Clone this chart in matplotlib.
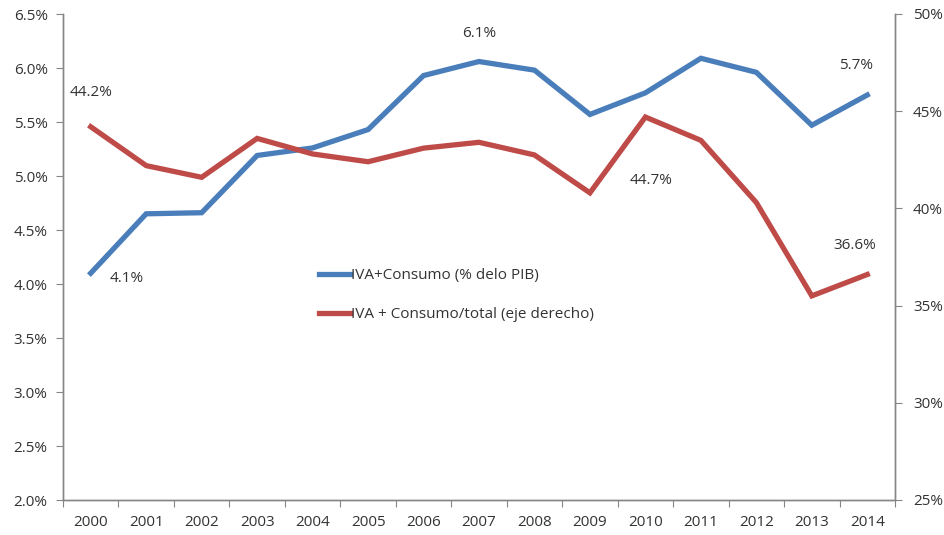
import matplotlib
matplotlib.use("Agg")
import matplotlib.pyplot as plt
from matplotlib.ticker import FuncFormatter, FixedLocator

years = ["2000", "2001", "2002", "2003", "2004", "2005", "2006", "2007",
         "2008", "2009", "2010", "2011", "2012", "2013", "2014"]
iva_pib = [4.10, 4.65, 4.66, 5.19, 5.26, 5.43, 5.93, 6.06,
           5.98, 5.57, 5.77, 6.09, 5.96, 5.47, 5.75]
iva_total = [44.2, 42.2, 41.6, 43.6, 42.8, 42.4, 43.1, 43.4,
             42.75, 40.8, 44.7, 43.5, 40.3, 35.5, 36.6]
left_ticks = [2.0, 2.5, 3.0, 3.5, 4.0, 4.5, 5.0, 5.5, 6.0, 6.5]
right_ticks = [25, 30, 35, 40, 45, 50]
label_blue = "IVA+Consumo (% delo PIB)"
label_red = "IVA + Consumo/total (eje derecho)"

plt.rcParams['font.family'] = ['Open Sans', 'DejaVu Sans']
FS = 11
BLUE = "#4a7ebb"
RED = "#be4b48"
GRAY = "#868686"
TXT = "#333333"

fig = plt.figure(figsize=(9.45, 5.35), dpi=100)
ax = fig.add_axes([63/945, 35/535, 832/945, 486/535])
ax2 = ax.twinx()

x = list(range(len(years)))
l1, = ax.plot(x, iva_pib, color=BLUE, lw=3.8, solid_joinstyle='miter', zorder=3)
l2, = ax2.plot(x, iva_total, color=RED, lw=3.8, solid_joinstyle='miter', zorder=3)

ax.set_xlim(-0.5, len(years) - 0.5)
ax.set_ylim(2.0, 6.5)
ax2.set_ylim(25, 50)
ax.set_yticks(left_ticks)
ax.yaxis.set_major_formatter(FuncFormatter(lambda v, p: f"{v:.1f}%"))
ax2.set_yticks(right_ticks)
ax2.yaxis.set_major_formatter(FuncFormatter(lambda v, p: f"{v:.0f}%"))

ax.xaxis.set_major_locator(FixedLocator([i - 0.5 for i in range(len(years) + 1)]))
ax.xaxis.set_major_formatter(FuncFormatter(lambda v, p: ""))
ax.xaxis.set_minor_locator(FixedLocator(x))
ax.set_xticks(x, years, minor=True)
ax.tick_params(axis='x', which='major', length=5, color=GRAY, direction='out')
ax.tick_params(axis='x', which='minor', length=0, pad=11, labelsize=FS, labelcolor=TXT)
ax.tick_params(axis='y', length=5, color=GRAY, labelsize=FS, labelcolor=TXT, pad=6)
ax2.tick_params(axis='y', length=5, color=GRAY, labelsize=FS, labelcolor=TXT, pad=8)

for a in (ax, ax2):
    a.spines['top'].set_visible(False)
    for s in ('left', 'right', 'bottom'):
        a.spines[s].set_color(GRAY)
        a.spines[s].set_linewidth(1.0)

ann = dict(fontsize=FS, color=TXT, ha='center', va='center')
ax2.annotate("44.2%", (0, iva_total[0]), xytext=(0, 25), textcoords='offset points', **ann)
ax.annotate("4.1%", (0, iva_pib[0]), xytext=(26, -4), textcoords='offset points', **ann)
ax.annotate("6.1%", (7, iva_pib[7]), xytext=(0, 20), textcoords='offset points', **ann)
ax2.annotate("44.7%", (10, iva_total[10]), xytext=(4, -46), textcoords='offset points', **ann)
ax.annotate("5.7%", (14, iva_pib[14]), xytext=(-8, 21), textcoords='offset points', **ann)
ax2.annotate("36.6%", (14, iva_total[14]), xytext=(-9, 21), textcoords='offset points', **ann)

leg = ax.legend([l1, l2], [label_blue, label_red], loc='upper left',
                bbox_to_anchor=(0.308, 0.477), frameon=False, fontsize=FS,
                handlelength=2.0, handletextpad=0.1, labelspacing=1.55,
                borderpad=0, borderaxespad=0)
for t in leg.get_texts():
    t.set_color(TXT)

fig.savefig("out.png", dpi=100, facecolor='white')
